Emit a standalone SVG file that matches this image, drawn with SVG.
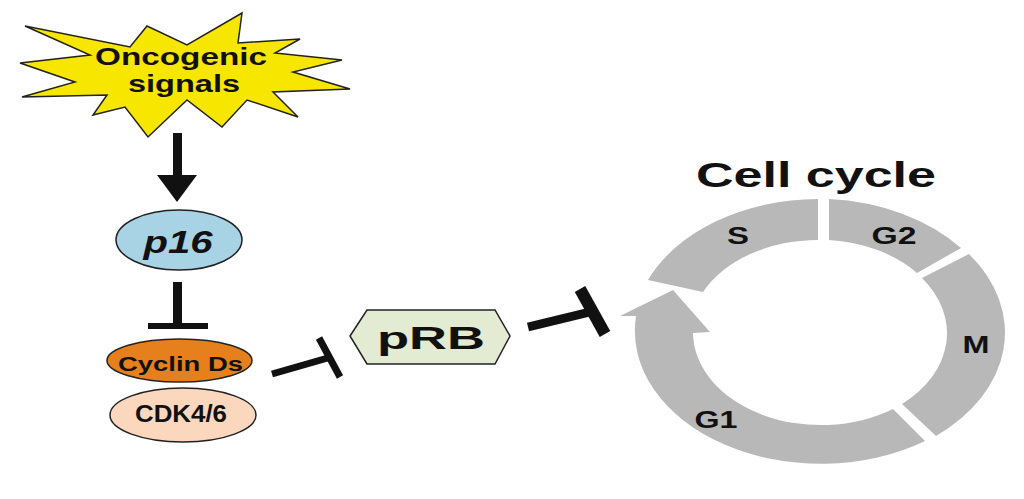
<svg xmlns="http://www.w3.org/2000/svg" width="1024" height="499" viewBox="0 0 1024 499">
<style>
text{font-family:"Liberation Sans",Arial,sans-serif;font-weight:bold;fill:#111;}
.mid{text-anchor:middle;}
.node{stroke:#222;stroke-width:1.5;}
.phase{fill:#b8b8b8;stroke:none;}
.bar{stroke:#111;fill:none;}
</style>
<rect width="1024" height="499" fill="#ffffff"/>
<g id="connectors">
<line class="bar" x1="177.5" y1="133" x2="177.5" y2="177" stroke-width="9"/>
<polygon points="157,175 197,175 177,202" fill="#111"/>
<line class="bar" x1="177.5" y1="282" x2="177.5" y2="326" stroke-width="9"/>
<line class="bar" x1="148" y1="326" x2="208" y2="326" stroke-width="6"/>
<line class="bar" x1="272" y1="374" x2="329.5" y2="357.5" stroke-width="7"/>
<line class="bar" x1="319" y1="338" x2="340" y2="377" stroke-width="7"/>
<line class="bar" x1="528" y1="327" x2="592" y2="311.5" stroke-width="9"/>
<line class="bar" x1="580" y1="289" x2="605" y2="334" stroke-width="12"/>
</g>
<g id="node-oncogenic">
<polygon class="node" fill="#f7e600" points="25,26 130,47 147,26 187,45 242,13 238,43 300,39 275,53 342,60 293,72 350,89 273,92 298,117 247,100 222,127 187,100 148,137 125,107 93,115 107,95 22,97 75,82 20,63 90,55"/>
<text class="mid" x="181" y="65" font-size="24" textLength="172" lengthAdjust="spacingAndGlyphs">Oncogenic</text>
<text class="mid" x="184" y="92" font-size="24" textLength="112" lengthAdjust="spacingAndGlyphs">signals</text>
</g>
<g id="node-p16">
<ellipse class="node" cx="179" cy="240" rx="63" ry="30" fill="#a8d3e5"/>
<text class="mid" x="178" y="253" font-size="31" font-style="italic" textLength="69" lengthAdjust="spacingAndGlyphs">p16</text>
</g>
<g id="node-cdk">
<ellipse class="node" cx="183" cy="415" rx="73" ry="27" fill="#fbd8bd"/>
<text class="mid" x="181" y="422" font-size="23" textLength="92" lengthAdjust="spacingAndGlyphs">CDK4/6</text>
</g>
<g id="node-cyclin">
<ellipse class="node" cx="179.5" cy="360.5" rx="72.5" ry="21.5" fill="#e5801c"/>
<text class="mid" x="180.5" y="371" font-size="19.5" textLength="125" lengthAdjust="spacingAndGlyphs">Cyclin Ds</text>
</g>
<g id="node-prb">
<polygon class="node" fill="#e3ebd2" points="350,336 367,310 495,310 510,336 495,364 367,364"/>
<text class="mid" x="431" y="349" font-size="31" textLength="108" lengthAdjust="spacingAndGlyphs">pRB</text>
</g>
<g id="node-cellcycle">
<text class="mid" x="816" y="187" font-size="35" textLength="240" lengthAdjust="spacingAndGlyphs">Cell cycle</text>
<path id="phase-s" class="phase" d="M648,280 A186,133 0 0 1 818,199 L818,240 A128,93 0 0 0 703,292 Z"/>
<path id="phase-g2" class="phase" d="M829,199 A186,133 0 0 1 961,248 L917,273 A128,93 0 0 0 829,240 Z"/>
<path id="phase-m" class="phase" d="M969,254 A186,133 0 0 1 936,436 L902,404 A128,93 0 0 0 922,278 Z"/>
<path id="phase-g1" class="phase" d="M925,441 A186,133 0 0 1 636,316 L620,316 L673,290 L710,332 L693,333 A128,93 0 0 0 893,409 Z"/>
<text class="mid" x="738" y="244" font-size="23" textLength="22" lengthAdjust="spacingAndGlyphs">S</text>
<text class="mid" x="894" y="244" font-size="23" textLength="45" lengthAdjust="spacingAndGlyphs">G2</text>
<text class="mid" x="976" y="353" font-size="23" textLength="27" lengthAdjust="spacingAndGlyphs">M</text>
<text class="mid" x="716" y="428" font-size="23" textLength="43" lengthAdjust="spacingAndGlyphs">G1</text>
</g>
</svg>
